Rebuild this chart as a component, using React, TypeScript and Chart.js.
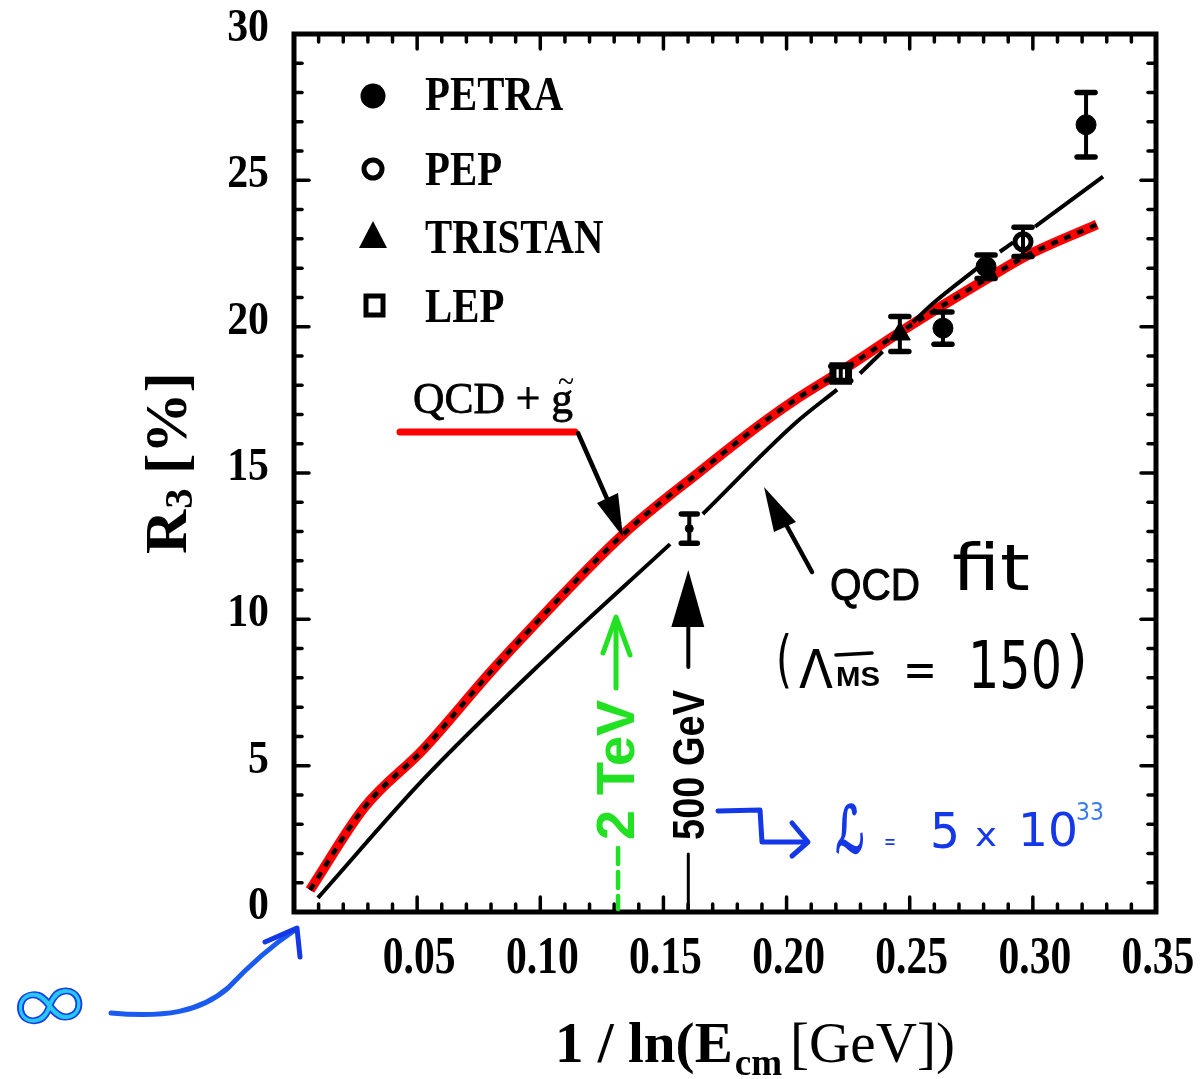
import React, { useEffect, useRef } from "react";
import { Chart, registerables } from "chart.js";
Chart.register(...registerables);

// ---------------- data ----------------
const petraX = [0.2635, 0.281, 0.3216];
const petraY = [19.95, 22.05, 26.9];
const petraErr = [0.55, 0.4, 1.1];
const pepX = [0.296];
const pepY = [22.9];
const pepErr = [0.5];
const tristanX = [0.246];
const tristanY = [19.75];
const tristanErr = [0.6];
const lepX = [0.222];
const lepY = [18.4];
const lepErr = [0.25];
const predX = [0.1605];
const predY = [13.1];
const predErr = [0.5];

// QCD fit curve (null = the original's breaks around the markers)
const qcdFitX = [0.0097, 0.0524, 0.099, 0.1527, 0.158, 0.166, 0.2035, 0.2205, 0.225, 0.2298, 0.239, 0.245, 0.2513, 0.2594, 0.2773, 0.282, 0.2866, 0.292, 0.296, 0.3009, 0.3285];
const qcdFitY = [0.48, 4.52, 8.4, 12.57, null, 13.6, 16.7, 17.85, null, 18.4, 19.15, null, 20.15, 20.79, 21.99, null, 22.56, 22.88, null, 23.42, 25.13];

const gluinoX = [0.0065, 0.0288, 0.0524, 0.0796, 0.0918, 0.1336, 0.1648, 0.1892, 0.2026, 0.2217, 0.2501, 0.2814, 0.2976, 0.326];
const gluinoY = [0.75, 3.6, 5.55, 8.18, 9.3, 12.9, 15.05, 16.65, 17.45, 18.46, 20.03, 21.64, 22.43, 23.49];

const legendLabels = ["PETRA", "PEP", "TRISTAN", "LEP"];
const xMin = 0, xMax = 0.35, xStep = 0.05, xMinorStep = 0.01;
const yMin = 0, yMax = 30, yStep = 5, yMinorStep = 1;
const x2TeV = 1 / Math.log(2000);
const x500GeV = 1 / Math.log(500);

const pts = (xs: number[], ys: (number | null)[]) => xs.map((x, i) => ({ x, y: ys[i] }));

const SERIF = '"Liberation Serif", "Times New Roman", serif';
const SANS = '"Liberation Sans", Arial, sans-serif';
const HAND = '"DejaVu Sans", sans-serif';
const BLUE = "#1438e8";
const GREEN = "#22e022";

function fitText(ctx: CanvasRenderingContext2D, s: string, x: number, y: number, font: string, width: number, color = "#000", rot = 0, stroke = 0) {
  ctx.save();
  ctx.font = font;
  const w = ctx.measureText(s).width;
  ctx.translate(x, y);
  if (rot) ctx.rotate(rot);
  ctx.scale(width / w, 1);
  ctx.fillStyle = color;
  ctx.textAlign = "left";
  ctx.textBaseline = "alphabetic";
  ctx.fillText(s, 0, 0);
  if (stroke) {
    ctx.strokeStyle = color;
    ctx.lineWidth = stroke;
    ctx.strokeText(s, 0, 0);
  }
  ctx.restore();
}

function scaledText(ctx: CanvasRenderingContext2D, s: string, x: number, y: number, font: string, sx: number, align: CanvasTextAlign, baseline: CanvasTextBaseline, color = "#000") {
  ctx.save();
  ctx.translate(x, y);
  ctx.scale(sx, 1);
  ctx.font = font;
  ctx.fillStyle = color;
  ctx.textAlign = align;
  ctx.textBaseline = baseline;
  ctx.fillText(s, 0, 0);
  ctx.restore();
}

function line(ctx: CanvasRenderingContext2D, p: number[][], color: string, w: number, dash: number[] = []) {
  ctx.save();
  ctx.strokeStyle = color;
  ctx.lineWidth = w;
  ctx.lineCap = "round";
  ctx.lineJoin = "round";
  ctx.setLineDash(dash);
  ctx.beginPath();
  ctx.moveTo(p[0][0], p[0][1]);
  for (let i = 1; i < p.length; i++) ctx.lineTo(p[i][0], p[i][1]);
  ctx.stroke();
  ctx.restore();
}

function poly(ctx: CanvasRenderingContext2D, p: number[][], color: string) {
  ctx.save();
  ctx.fillStyle = color;
  ctx.beginPath();
  ctx.moveTo(p[0][0], p[0][1]);
  for (let i = 1; i < p.length; i++) ctx.lineTo(p[i][0], p[i][1]);
  ctx.closePath();
  ctx.fill();
  ctx.restore();
}

const errorBarPlugin = {
  id: "errorBars",
  afterDatasetsDraw(chart: any) {
    const ctx = chart.ctx as CanvasRenderingContext2D;
    const xs = chart.scales.x, ys = chart.scales.y;
    chart.data.datasets.forEach((ds: any) => {
      if (!ds.errors) return;
      ds.data.forEach((p: any, j: number) => {
        const px = xs.getPixelForValue(p.x);
        const t = ys.getPixelForValue(p.y + ds.errors[j]);
        const b = ys.getPixelForValue(p.y - ds.errors[j]);
        const cw = ds.capWidth || 9;
        line(ctx, [[px, t], [px, b]], "#000", 4);
        line(ctx, [[px - cw, t], [px + cw, t]], "#000", 5.5);
        line(ctx, [[px - cw, b], [px + cw, b]], "#000", 5.5);
      });
    });
  },
};

const decorPlugin = {
  id: "decor",
  afterDraw(chart: any) {
    const ctx = chart.ctx as CanvasRenderingContext2D;
    const xs = chart.scales.x, ys = chart.scales.y;
    const { left, right, top, bottom } = chart.chartArea;

    // frame
    ctx.save();
    ctx.strokeStyle = "#000";
    ctx.lineWidth = 5;
    ctx.strokeRect(left, top, right - left, bottom - top);
    ctx.restore();

    // inward ticks
    const nx = Math.round((xMax - xMin) / xMinorStep);
    for (let i = 1; i < nx; i++) {
      const v = xMin + i * xMinorStep;
      const px = xs.getPixelForValue(v);
      const major = i % Math.round(xStep / xMinorStep) === 0;
      const L = major ? 15 : 8;
      line(ctx, [[px, bottom], [px, bottom - L]], "#000", 3.5);
      line(ctx, [[px, top], [px, top + L]], "#000", 3.5);
    }
    const ny = Math.round((yMax - yMin) / yMinorStep);
    for (let i = 1; i < ny; i++) {
      const v = yMin + i * yMinorStep;
      const py = ys.getPixelForValue(v);
      const major = i % Math.round(yStep / yMinorStep) === 0;
      const L = major ? 15 : 8;
      line(ctx, [[left, py], [left + L, py]], "#000", 3.5);
      line(ctx, [[right, py], [right - L, py]], "#000", 3.5);
    }

    // tick labels
    xs.ticks.forEach((t: any) => {
      if (t.value <= xMin + 1e-9) return;
      const px = xs.getPixelForValue(t.value);
      scaledText(ctx, t.value.toFixed(2), px + 2, 960, `bold 52px ${SERIF}`, 0.8, "center", "middle");
    });
    ys.ticks.forEach((t: any) => {
      const py = ys.getPixelForValue(t.value);
      scaledText(ctx, String(Math.round(t.value)), left - 25, py - 5, `bold 47px ${SERIF}`, 0.89, "right", "middle");
    });

    // y title  R3 [%]
    ctx.save();
    ctx.translate(186, 554);
    ctx.rotate(-Math.PI / 2);
    ctx.fillStyle = "#000";
    ctx.textBaseline = "alphabetic";
    const fR = `bold 60px ${SERIF}`, f3 = `bold 40px ${SERIF}`;
    ctx.font = fR; const wR = ctx.measureText("R").width; const wRest = ctx.measureText(" [%]").width;
    ctx.font = f3; const w3 = ctx.measureText("3").width;
    const sY = 182 / (wR + w3 + wRest);
    ctx.scale(sY, 1);
    ctx.font = fR; ctx.fillText("R", 0, 0);
    ctx.font = f3; ctx.fillText("3", wR + 1, 6);
    ctx.font = fR; ctx.fillText(" [%]", wR + w3, 0);
    ctx.restore();

    // x title 1 / ln(E_cm [GeV])
    ctx.save();
    ctx.translate(555, 1062);
    ctx.fillStyle = "#000";
    const fa = `bold 57px ${SERIF}`, fb = `bold 37px ${SERIF}`, fc = `57px ${SERIF}`;
    ctx.font = fa; const wa = ctx.measureText("1 / ln(E").width;
    ctx.font = fb; const wb = ctx.measureText("cm").width;
    ctx.font = fc; const wc = ctx.measureText("[GeV])").width;
    const sX = 400 / (wa + wb + wc + 10);
    ctx.scale(sX, 1);
    ctx.font = fa; ctx.fillText("1 / ln(E", 0, 0);
    ctx.font = fb; ctx.fillText("cm", wa + 2, 13);
    ctx.font = fc; ctx.fillText("[GeV])", wa + wb + 10, 0);
    ctx.restore();

    // legend
    const lx = 373;
    const ly = [96, 169, 236, 305];
    ctx.save();
    ctx.fillStyle = "#000";
    ctx.beginPath(); ctx.arc(lx, ly[0], 12.5, 0, Math.PI * 2); ctx.fill();
    ctx.lineWidth = 5; ctx.strokeStyle = "#000";
    ctx.beginPath(); ctx.arc(lx, ly[1], 9, 0, Math.PI * 2); ctx.stroke();
    ctx.restore();
    poly(ctx, [[lx, ly[2] - 15], [lx + 14, ly[2] + 12], [lx - 14, ly[2] + 12]], "#000");
    ctx.save(); ctx.lineWidth = 5; ctx.strokeStyle = "#000"; ctx.strokeRect(lx - 7, ly[3] - 9, 17, 19); ctx.restore();
    const lb = [110, 185, 253, 322];
    legendLabels.forEach((s, i) => scaledText(ctx, s, 425, lb[i], `bold 48px ${SERIF}`, 0.85, "left", "alphabetic"));

    // QCD + g~ label
    fitText(ctx, "QCD + g", 413, 413, `44px ${SERIF}`, 160, "#000", 0, 0.8);
    fitText(ctx, "~", 558, 392, `34px ${SERIF}`, 16);
    line(ctx, [[400, 432], [575, 432]], "#ff0000", 7);
    line(ctx, [[578, 433], [612, 510]], "#000", 4.5);
    poly(ctx, [[597, 503], [618, 493], [623, 537]], "#000");

    // QCD fit label
    line(ctx, [[812, 572], [778, 510]], "#000", 4.5);
    poly(ctx, [[774, 532], [796, 522], [764, 487]], "#000");
    fitText(ctx, "QCD", 830, 600, `44px ${SANS}`, 90, "#000", 0, 1);
    fitText(ctx, "fit", 952, 590, `64px ${HAND}`, 78);
    fitText(ctx, "(", 776, 680, `62px ${HAND}`, 16);
    fitText(ctx, "Λ", 799, 688, `54px ${HAND}`, 34);
    line(ctx, [[836, 655], [872, 653]], "#000", 3.5);
    fitText(ctx, "MS", 836, 686, `bold 28px ${SANS}`, 44);
    fitText(ctx, "=", 903, 686, `48px ${HAND}`, 34);
    fitText(ctx, "150", 968, 688, `66px ${HAND}`, 94);
    fitText(ctx, ")", 1066, 680, `62px ${HAND}`, 22);

    // 2 TeV marker (green)
    const gx = xs.getPixelForValue(x2TeV);
    line(ctx, [[gx, 848], [gx, bottom - 3]], GREEN, 4.5, [16, 8]);
    fitText(ctx, "2 TeV", gx + 16, 840, `bold 54px ${SANS}`, 140, GREEN, -Math.PI / 2);
    line(ctx, [[gx - 2, 688], [gx - 2, 619]], GREEN, 5);
    line(ctx, [[gx - 15, 653], [gx - 2, 617], [gx + 12, 655]], GREEN, 5);

    // 500 GeV marker
    const bx = xs.getPixelForValue(x500GeV) - 2;
    line(ctx, [[bx, 854], [bx, bottom - 3]], "#000", 3);
    fitText(ctx, "500 GeV", bx + 16, 840, `bold 44px ${SANS}`, 150, "#000", -Math.PI / 2);
    line(ctx, [[bx, 667], [bx, 620]], "#000", 4);
    poly(ctx, [[bx - 17, 627], [bx + 16, 627], [bx, 570]], "#000");

    // luminosity note (blue)
    line(ctx, [[718, 811], [760, 810], [762, 842], [806, 842]], BLUE, 5);
    line(ctx, [[792, 823], [808, 842], [792, 856]], BLUE, 5);
    fitText(ctx, "ℒ", 836, 852, `64px ${HAND}`, 28, BLUE, 0, 2.5);
    fitText(ctx, "=", 884, 849, `22px ${HAND}`, 12, BLUE);
    fitText(ctx, "5", 930, 848, `50px ${HAND}`, 30, BLUE);
    fitText(ctx, "x", 975, 846, `32px ${HAND}`, 22, BLUE);
    fitText(ctx, "10", 1018, 846, `46px ${HAND}`, 60, BLUE);
    fitText(ctx, "33", 1076, 820, `24px ${HAND}`, 28, "#3a7af0");

    // infinity note
    ctx.save();
    ctx.translate(10, 1036);
    ctx.rotate(-0.12);
    ctx.font = `84px ${HAND}`;
    const wi = ctx.measureText("∞").width;
    ctx.scale(86 / wi, 1);
    ctx.fillStyle = "#25c8f0";
    ctx.fillText("∞", 0, 0);
    ctx.strokeStyle = "#1a3ce6";
    ctx.lineWidth = 1.5;
    ctx.strokeText("∞", 0, 0);
    ctx.restore();
    ctx.save();
    ctx.strokeStyle = "#1a5af0";
    ctx.lineWidth = 5;
    ctx.lineCap = "round";
    ctx.beginPath();
    ctx.moveTo(111, 1013);
    ctx.bezierCurveTo(165, 1018, 200, 1012, 228, 988);
    ctx.quadraticCurveTo(262, 952, 295, 930);
    ctx.stroke();
    ctx.restore();
    line(ctx, [[265, 942], [297, 928], [300, 957]], BLUE, 5);
  },
};

export default function App() {
  const ref = useRef<HTMLCanvasElement | null>(null);
  useEffect(() => {
    if (!ref.current) return;
    const chart = new Chart(ref.current, {
      type: "scatter",
      data: {
        datasets: [
          { label: "PETRA", data: pts(petraX, petraY), errors: petraErr, pointStyle: "circle", pointRadius: 10, backgroundColor: "#000", borderColor: "#000", borderWidth: 1 } as any,
          { label: "PEP", data: pts(pepX, pepY), errors: pepErr, pointStyle: "circle", pointRadius: 8, backgroundColor: "#fff", borderColor: "#000", borderWidth: 5 } as any,
          { label: "TRISTAN", data: pts(tristanX, tristanY), errors: tristanErr, pointStyle: "triangle", pointRadius: 12, backgroundColor: "#000", borderColor: "#000", borderWidth: 1 } as any,
          { label: "LEP", data: pts(lepX, lepY), errors: lepErr, capWidth: 10, pointStyle: "rect", pointRadius: 11, backgroundColor: "#fff", borderColor: "#000", borderWidth: 7 } as any,
          { label: "500 GeV", data: pts(predX, predY), errors: predErr, capWidth: 8, pointStyle: "circle", pointRadius: 4, backgroundColor: "#000", borderColor: "#000", borderWidth: 1 } as any,
          { label: "QCD fit", data: pts(qcdFitX, qcdFitY), showLine: true, spanGaps: false, pointRadius: 0, borderColor: "#000", borderWidth: 4, cubicInterpolationMode: "monotone" } as any,
          { label: "QCD + gluino (dots)", data: pts(gluinoX, gluinoY), showLine: true, pointRadius: 0, borderColor: "#000", borderWidth: 4.5, borderDash: [7, 7], borderCapStyle: "butt", cubicInterpolationMode: "monotone" } as any,
          { label: "QCD + gluino", data: pts(gluinoX, gluinoY), showLine: true, pointRadius: 0, borderColor: "#ff0000", borderWidth: 10, cubicInterpolationMode: "monotone" } as any,
        ],
      },
      options: {
        responsive: false,
        animation: false,
        devicePixelRatio: 1,
        layout: { padding: { top: 34, right: 44, left: 0, bottom: 0 } },
        plugins: { legend: { display: false }, tooltip: { enabled: false } },
        scales: {
          x: {
            type: "linear", min: xMin, max: xMax,
            ticks: { display: false, stepSize: xStep },
            grid: { display: false, drawTicks: false },
            border: { display: false },
            afterFit: (s: any) => { s.height = 167; },
          },
          y: {
            type: "linear", min: yMin, max: yMax,
            ticks: { display: false, stepSize: yStep },
            grid: { display: false, drawTicks: false },
            border: { display: false },
            afterFit: (s: any) => { s.width = 294; },
          },
        },
      } as any,
      plugins: [errorBarPlugin, decorPlugin],
    });
    return () => chart.destroy();
  }, []);
  return (
    <div style={{ position: "fixed", left: 0, top: 0, width: 1200, height: 1079, background: "#fff" }}>
      <canvas ref={ref} width={1200} height={1079} style={{ display: "block", width: 1200, height: 1079 }} />
    </div>
  );
}
